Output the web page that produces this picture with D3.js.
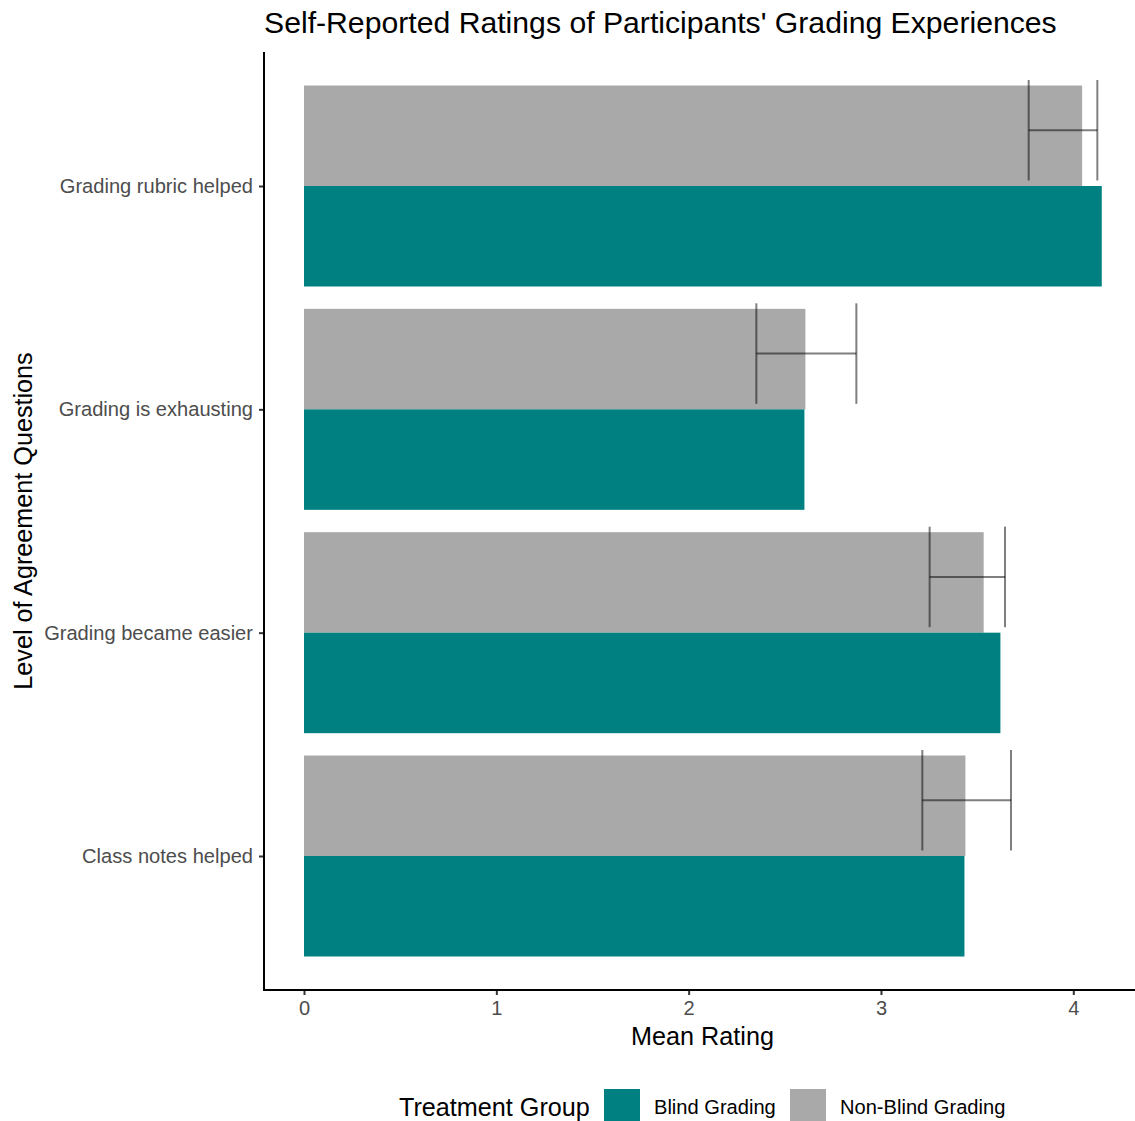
<!DOCTYPE html>
<html>
<head>
<meta charset="utf-8">
<script src="https://cdn.jsdelivr.net/npm/d3@7"></script>
<style>
  html, body { margin: 0; padding: 0; background: #fff; }
  svg { display: block; font-family: "Liberation Sans", Arial, Helvetica, sans-serif; }
</style>
</head>
<body>
<svg id="chart" width="1135" height="1121"></svg>
<script>
// Survey questions (top to bottom)
const categories = [
  "Grading rubric helped",
  "Grading is exhausting",
  "Grading became easier",
  "Class notes helped"
];
// Mean ratings per treatment group
const blindMeans    = [4.148, 2.602, 3.621, 3.434];
const nonBlindMeans = [4.046, 2.607, 3.534, 3.439];
// Error bar extent drawn on the non-blind bars
const errLow  = [3.768, 2.352, 3.253, 3.215];
const errHigh = [4.125, 2.872, 3.645, 3.676];
// Axis ticks and legend
const xTicks = [0, 1, 2, 3, 4];
const groups = ["Non-Blind Grading", "Blind Grading"];
const legendOrder = ["Blind Grading", "Non-Blind Grading"];
const groupColors = { "Blind Grading": "#008080", "Non-Blind Grading": "#A9A9A9" };

const rows = categories.map((c, i) => ({
  category: c,
  values: { "Blind Grading": blindMeans[i], "Non-Blind Grading": nonBlindMeans[i] },
  lo: errLow[i], hi: errHigh[i]
}));

const panel = { left: 264, top: 52, bottom: 990, right: 1135 };
const baseSize = 25.2, smallSize = 20.1, titleSize = 30.2;

const svg = d3.select("#chart");

const x = d3.scaleLinear().domain([0, 4]).range([304, 1073.3]);

const y = d3.scaleBand()
  .domain(categories)
  .range([panel.top, panel.bottom])
  .paddingInner(0.1)
  .paddingOuter(0.15);

const yInner = d3.scaleBand()
  .domain(groups)
  .range([0, y.bandwidth()]);

// Bars
const g = svg.append("g");
const catG = g.selectAll("g.cat").data(rows).join("g")
  .attr("class", "cat")
  .attr("transform", d => `translate(0,${y(d.category)})`);

catG.selectAll("rect").data(d => groups.map(k => ({ key: k, value: d.values[k] })))
  .join("rect")
  .attr("x", x(0))
  .attr("y", d => yInner(d.key))
  .attr("width", d => x(d.value) - x(0))
  .attr("height", yInner.bandwidth())
  .attr("fill", d => groupColors[d.key]);

// Error bars on the non-blind bars
const ebShift = -5.5;
const eb = catG.append("g")
  .attr("stroke", "#000")
  .attr("stroke-opacity", 0.5)
  .attr("stroke-width", 2)
  .attr("fill", "none");
const nbTop = yInner("Non-Blind Grading") + ebShift;
const nbMid = nbTop + yInner.bandwidth() / 2;
const nbBot = nbTop + yInner.bandwidth();
eb.append("line")
  .attr("x1", d => x(d.lo)).attr("x2", d => x(d.hi))
  .attr("y1", nbMid).attr("y2", nbMid);
eb.append("line")
  .attr("x1", d => x(d.lo)).attr("x2", d => x(d.lo))
  .attr("y1", nbTop).attr("y2", nbBot);
eb.append("line")
  .attr("x1", d => x(d.hi)).attr("x2", d => x(d.hi))
  .attr("y1", nbTop).attr("y2", nbBot);

// Axes
const yCenter = d3.scalePoint().domain(categories)
  .range([y(categories[0]) + y.bandwidth() / 2, y(categories[categories.length - 1]) + y.bandwidth() / 2]);

const yAxis = svg.append("g")
  .attr("transform", `translate(${panel.left},0)`)
  .call(d3.axisLeft(yCenter).tickSize(5).tickPadding(6));
const xAxis = svg.append("g")
  .attr("transform", `translate(0,${panel.bottom})`)
  .call(d3.axisBottom(x).tickValues(xTicks).tickFormat(d3.format("d")).tickSize(5).tickPadding(6));

[yAxis, xAxis].forEach(a => {
  a.select(".domain").remove();
  a.selectAll(".tick line").attr("stroke", "#333333").attr("stroke-width", 2);
  a.selectAll(".tick text").attr("fill", "#4D4D4D").attr("font-size", smallSize)
    .attr("font-family", "\"Liberation Sans\", Arial, sans-serif");
});

// Axis lines
svg.append("line")
  .attr("x1", panel.left).attr("x2", panel.left)
  .attr("y1", panel.top).attr("y2", panel.bottom + 1)
  .attr("stroke", "#000").attr("stroke-width", 2);
svg.append("line")
  .attr("x1", panel.left - 1).attr("x2", panel.right)
  .attr("y1", panel.bottom).attr("y2", panel.bottom)
  .attr("stroke", "#000").attr("stroke-width", 2);

// Titles
svg.append("text")
  .attr("x", 264).attr("y", 33)
  .attr("font-size", titleSize).attr("fill", "#000")
  .text("Self-Reported Ratings of Participants' Grading Experiences");

svg.append("text")
  .attr("x", (panel.left + 1141) / 2).attr("y", 1045)
  .attr("text-anchor", "middle")
  .attr("font-size", baseSize).attr("fill", "#000")
  .text("Mean Rating");

svg.append("text")
  .attr("transform", `translate(32,${(panel.top + panel.bottom) / 2}) rotate(-90)`)
  .attr("text-anchor", "middle")
  .attr("font-size", baseSize).attr("fill", "#000")
  .text("Level of Agreement Questions");

// Legend
const legend = svg.append("g");
legend.append("text")
  .attr("x", 399).attr("y", 1116)
  .attr("font-size", baseSize).attr("fill", "#000")
  .text("Treatment Group");
const keyX = { "Blind Grading": 604, "Non-Blind Grading": 790 };
const items = legend.selectAll("g.item").data(legendOrder).join("g").attr("class", "item");
items.append("rect")
  .attr("x", d => keyX[d]).attr("y", 1089)
  .attr("width", 36).attr("height", 36)
  .attr("fill", d => groupColors[d]);
items.append("text")
  .attr("x", d => keyX[d] + 50).attr("y", 1114)
  .attr("font-size", smallSize).attr("fill", "#000")
  .text(d => d);
</script>
</body>
</html>
